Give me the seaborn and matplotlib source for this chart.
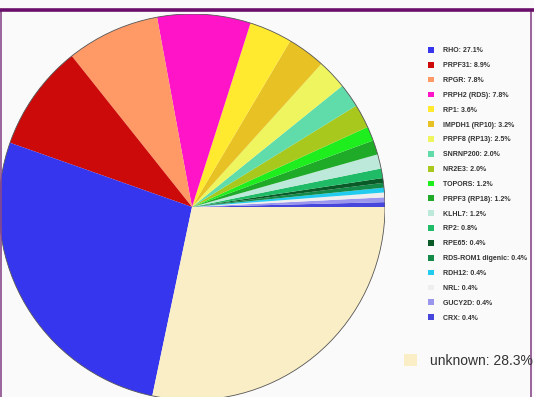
#!/usr/bin/env python3
# -*- coding: utf-8 -*-
'''
Pie chart of gene share, with a legend list on the right
'''
import matplotlib
matplotlib.use("Agg")
import matplotlib.pyplot as plt
from matplotlib.patches import Patch, Circle, Rectangle
import seaborn as sns

sns.set_theme(style="white")
plt.rcParams['font.family'] = ['Liberation Sans', 'DejaVu Sans']

# data, in legend order
genes = ["RHO", "PRPF31", "RPGR", "PRPH2 (RDS)", "RP1", "IMPDH1 (RP10)",
         "PRPF8 (RP13)", "SNRNP200", "NR2E3", "TOPORS", "PRPF3 (RP18)",
         "KLHL7", "RP2", "RPE65", "RDS-ROM1 digenic", "RDH12", "NRL",
         "GUCY2D", "CRX"]
shares = [27.1, 8.9, 7.8, 7.8, 3.6, 3.2, 2.5, 2.0, 2.0, 1.2, 1.2,
          1.2, 0.8, 0.4, 0.4, 0.4, 0.4, 0.4, 0.4]
unknown_share = 28.3

colors = ["#3636ee", "#cc0a0a", "#ff9a66", "#ff14c8", "#ffea30", "#e8c224",
          "#eef55e", "#5fdcaa", "#a8c81e", "#1eee1e", "#1faa28", "#bde9da",
          "#1fbb66", "#0a5a28", "#138a48", "#22ccee", "#eeeeee", "#9a96ee",
          "#4646dc"]
unknown_color = "#faeec6"

fig = plt.figure(figsize=(5.34, 3.97), dpi=100)
fig.patch.set_facecolor("#fbfafb")

# pie: counterclockwise from east, smallest genes first, unknown last
vals = shares[::-1] + [unknown_share]
cols = colors[::-1] + [unknown_color]
ax = fig.add_axes([-1 / 534, -3 / 397, 386 / 534, 386 / 397])
ax.pie(vals, colors=cols, startangle=0, counterclock=True,
       wedgeprops=dict(linewidth=0))
ax.add_patch(Circle((0, 0), 1, fill=False, edgecolor="#555555", linewidth=0.6))
ax.set_xlim(-1, 1)
ax.set_ylim(-1, 1)
ax.set_aspect("auto")
ax.axis("off")

# legend list
handles = [Patch(facecolor=c, edgecolor="none") for c in colors]
labels = [f"{g}: {s:.1f}%" for g, s in zip(genes, shares)]
leg = fig.legend(handles, labels, loc="upper left",
                 bbox_to_anchor=(428 / 534, 1 - 47 / 397),
                 frameon=False, prop=dict(size=5, weight="bold"),
                 handlelength=0.9, handleheight=0.9, handletextpad=1.2,
                 labelspacing=1.09, borderpad=0, borderaxespad=0)
for t in leg.get_texts():
    t.set_color("#333333")

leg2 = fig.legend([Patch(facecolor=unknown_color, edgecolor="none")],
                  [f"unknown: {unknown_share:.1f}%"], loc="upper left",
                  bbox_to_anchor=(404 / 534, 1 - 354 / 397), frameon=False,
                  prop=dict(size=10), handlelength=0.9, handleheight=0.9,
                  handletextpad=1.0, borderpad=0, borderaxespad=0)
for t in leg2.get_texts():
    t.set_color("#333333")

# purple frame
fig.add_artist(Rectangle((1 / 534, -0.01), 530 / 534, 1 - 10 / 397 + 0.01,
                         transform=fig.transFigure, fill=False,
                         edgecolor="#8a4a8a", linewidth=1.2))
fig.add_artist(plt.Line2D([0, 1], [1 - 10 / 397] * 2, transform=fig.transFigure,
                          color="#6a106a", linewidth=2.6))

fig.savefig("out.png", dpi=100, facecolor=fig.get_facecolor())
